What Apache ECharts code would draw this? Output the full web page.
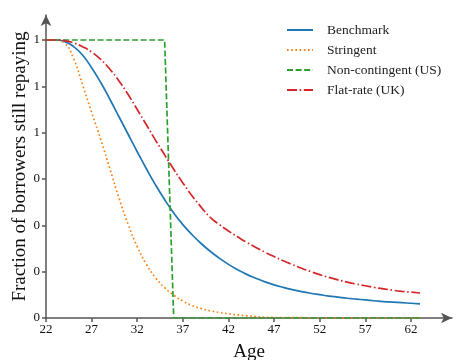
<!DOCTYPE html>
<html>
<head>
<meta charset="utf-8">
<script src="https://cdn.jsdelivr.net/npm/echarts@6/dist/echarts.min.js"></script>
<style>html,body{margin:0;padding:0;background:#fff}#c{width:459px;height:360px}</style>
</head>
<body>
<div id="c"></div>
<script>
const ages = [22,23,24,25,26,27,28,29,30,31,32,33,34,35,36,37,38,39,40,41,42,43,44,45,46,47,48,49,50,51,52,53,54,55,56,57,58,59,60,61,62,63];
const benchmark = [1,1,0.995,0.977,0.946,0.9,0.847,0.787,0.724,0.661,0.598,0.537,0.479,0.426,0.378,0.336,0.3,0.268,0.24,0.215,0.193,0.174,0.157,0.143,0.13,0.119,0.11,0.102,0.095,0.089,0.084,0.079,0.075,0.071,0.068,0.065,0.062,0.059,0.057,0.055,0.053,0.051];
const stringent = [1,1,0.99,0.935,0.84,0.74,0.642,0.537,0.432,0.337,0.257,0.193,0.145,0.109,0.082,0.061,0.045,0.034,0.026,0.02,0.015,0.011,0.008,0.005,0.003,0.002,0.001,0.001,0.001,0,0,0,0,0,0,0,0,0,0,0,0,0];
const nonContingent = [1,1,1,1,1,1,1,1,1,1,1,1,1,1,0,0,0,0,0,0,0,0,0,0,0,0,0,0,0,0,0,0,0,0,0,0,0,0,0,0,0,0];
const flatRate = [1,1,0.998,0.99,0.976,0.957,0.93,0.895,0.853,0.804,0.75,0.695,0.64,0.587,0.535,0.486,0.44,0.399,0.362,0.336,0.313,0.292,0.272,0.254,0.237,0.221,0.206,0.192,0.179,0.167,0.156,0.146,0.137,0.129,0.122,0.116,0.11,0.105,0.1,0.096,0.093,0.09];
const seriesNames = ['Benchmark','Stringent','Non-contingent (US)','Flat-rate (UK)'];
const xTickValues = [22,27,32,37,42,47,52,57,62];
const yTickValues = [0,1/6,2/6,3/6,4/6,5/6,1];
const yTickLabels = ['0','0','0','0','1','1','1'];

const pair = arr => ages.map((a,i)=>[a,arr[i]]);
const font = '"Liberation Serif","Times New Roman",serif';
const chart = echarts.init(document.getElementById('c'), null, {renderer:'canvas'});
const axisLineStyle = {color:'#555', width:1.5};
chart.setOption({
  animation:false,
  backgroundColor:'#fff',
  grid:{left:46, right:7, top:15, bottom:42, containLabel:false, outerBoundsMode:'none'},
  legend:{
    left:281, top:18, orient:'vertical', itemGap:6, itemWidth:26, itemHeight:14,
    itemStyle:{opacity:0},
    textStyle:{fontFamily:font, fontSize:13.5, color:'#222', padding:[0,0,0,9]},
    data:seriesNames
  },
  xAxis:{
    type:'value', min:22, max:66.5,
    name:'Age', nameLocation:'middle', nameGap:25,
    nameTextStyle:{fontFamily:font, fontSize:19, color:'#111'},
    axisLine:{show:true, lineStyle:axisLineStyle, symbol:['none','arrow'], symbolSize:[8,11]},
    axisTick:{show:true, length:4, lineStyle:axisLineStyle, customValues:xTickValues},
    axisLabel:{fontFamily:font, fontSize:13, color:'#111', margin:5, customValues:xTickValues},
    splitLine:{show:false}
  },
  yAxis:{
    type:'value', min:0, max:1.09,
    name:'Fraction of borrowers still repaying', nameLocation:'middle', nameGap:16, nameMoveOverlap:false,
    nameTextStyle:{fontFamily:font, fontSize:19, color:'#111'},
    axisLine:{show:true, lineStyle:axisLineStyle, symbol:['none','arrow'], symbolSize:[8,11]},
    axisTick:{show:true, length:4, lineStyle:axisLineStyle, customValues:yTickValues},
    axisLabel:{fontFamily:font, fontSize:13, color:'#111', margin:6, customValues:yTickValues,
      formatter:v=>{const i=yTickValues.findIndex(t=>Math.abs(t-v)<1e-6);return i>=0?yTickLabels[i]:'';}},
    splitLine:{show:false}
  },
  series:[
    {name:seriesNames[0], type:'line', data:pair(benchmark), smooth:0.5, symbol:'none', color:'#1f77b4', lineStyle:{width:1.7, type:'solid'}},
    {name:seriesNames[1], type:'line', data:pair(stringent), smooth:0.5, symbol:'none', color:'#ff7f0e', lineStyle:{width:1.7, type:[1.6,2.6]}},
    {name:seriesNames[2], type:'line', data:pair(nonContingent), symbol:'none', color:'#2ca02c', lineStyle:{width:1.7, type:[6,2.6]}},
    {name:seriesNames[3], type:'line', data:pair(flatRate), smooth:0.5, symbol:'none', color:'#d62728', lineStyle:{width:1.7, type:[10,2.6,1.6,2.6]}}
  ]
});
</script>
</body>
</html>
